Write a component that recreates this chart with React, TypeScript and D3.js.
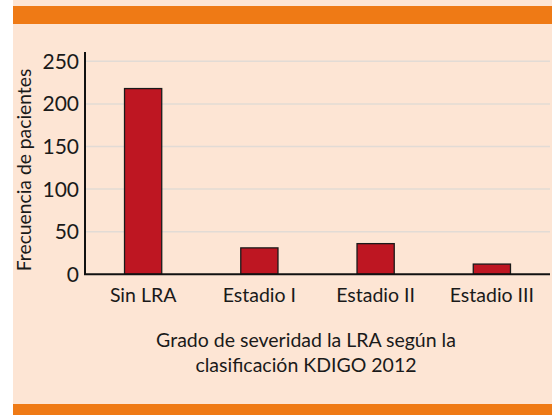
import React from 'react'
import * as d3 from 'd3'

const categories = ['Sin LRA', 'Estadio I', 'Estadio II', 'Estadio III']
const patients = [218, 31, 36, 12]
const yTicks = [0, 50, 100, 150, 200, 250]
const yLabel = 'Frecuencia de pacientes'
const xTitle = ['Grado de severidad la LRA según la', 'clasificación KDIGO 2012']

const App = () => {
  const width = 552
  const height = 415
  const font = 'Lato, "Open Sans", sans-serif'

  const x = d3.scaleBand()
    .domain(categories)
    .range([85, 550])
    .paddingInner(0.68)
    .paddingOuter(0.34)

  const y = d3.scaleLinear()
    .domain([0, 250])
    .range([274.3, 61.3])

  return (
    <svg width={width} height={height} style={{position: 'absolute', left: 0, top: 0}}>
      <rect x={13} y={0} width={width - 13} height={height} fill="#fde5d4" />
      <rect x={13} y={6} width={width - 13} height={18} fill="#ef7a15" />
      <rect x={13} y={404} width={width - 13} height={11} fill="#ef7a15" />

      {/* gridlines */}
      {yTicks.filter(t => t > 0).map(t => (
        <line key={t} x1={85} x2={550} y1={y(t)} y2={y(t)} stroke="#e2dbd5" strokeWidth={1.5} />
      ))}

      {/* bars */}
      {categories.map((c, i) => (
        <rect key={c}
          x={x(c)}
          y={y(patients[i])}
          width={x.bandwidth()}
          height={y(0) - y(patients[i])}
          fill="#be1622"
          stroke="#1a1a1a"
          strokeWidth={1.3} />
      ))}

      {/* axes */}
      <line x1={85} x2={85} y1={52} y2={y(0)} stroke="#111" strokeWidth={2} />
      <line x1={84} x2={550} y1={y(0)} y2={y(0)} stroke="#111" strokeWidth={2} />

      {yTicks.map(t => (
        <text key={t} x={79} y={y(t)} dy="0.36em" textAnchor="end"
          fontFamily={font} fontSize={21} fill="#1a1a1a">{t}</text>
      ))}

      {categories.map(c => (
        <text key={c} x={(x(c) ?? 0) + x.bandwidth() / 2} y={302} textAnchor="middle"
          fontFamily={font} fontSize={19.5} fill="#1a1a1a">{c}</text>
      ))}

      <text transform="translate(31,170) rotate(-90)" textAnchor="middle"
        fontFamily={font} fontSize={19.3} fill="#1a1a1a">{yLabel}</text>

      {xTitle.map((line, i) => (
        <text key={i} x={306} y={347 + i * 25} textAnchor="middle"
          fontFamily={font} fontSize={19.5} fill="#1a1a1a">{line}</text>
      ))}
    </svg>
  )
}

export default App
